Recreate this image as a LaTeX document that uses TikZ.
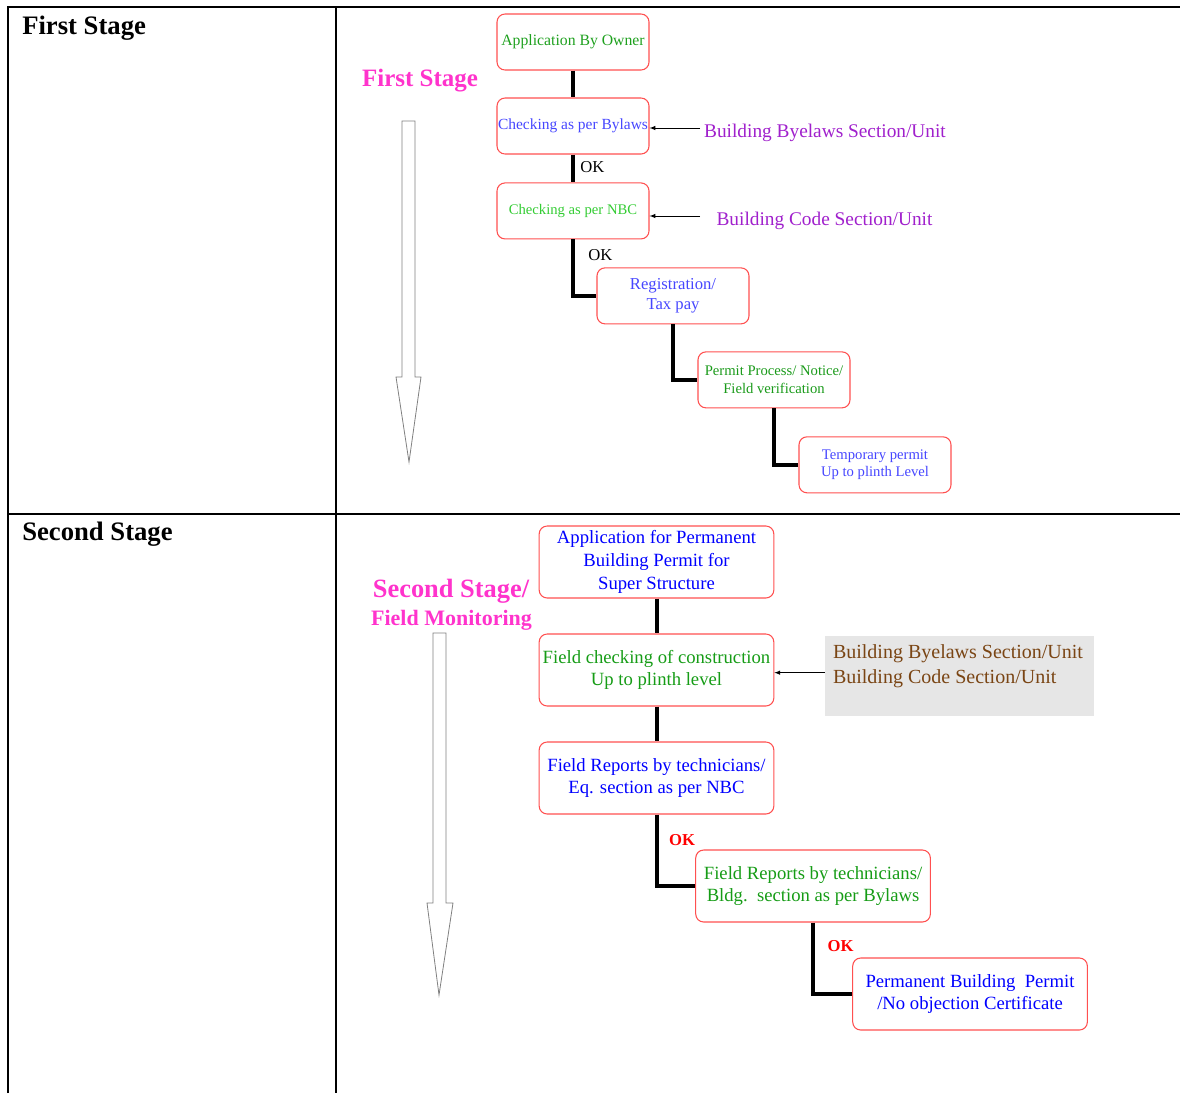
\documentclass[tikz,border=0pt]{standalone}
\usepackage{fontspec}
\setmainfont{Liberation Serif}
\usetikzlibrary{positioning}

\definecolor{boxred}{HTML}{FF5050}
\definecolor{ogreen}{HTML}{1EA01E}
\definecolor{bgreen}{HTML}{33CC33}
\definecolor{dgreen}{HTML}{1A9A1A}
\definecolor{fgreen}{HTML}{169C16}
\definecolor{lblue}{HTML}{4646FF}
\definecolor{pblue}{HTML}{0000FF}
\definecolor{unitpurple}{HTML}{A020CC}
\definecolor{stagepink}{HTML}{FF33CC}
\definecolor{unitgray}{HTML}{E6E6E6}
\definecolor{unitbrown}{HTML}{7A4514}

\begin{document}
\begin{tikzpicture}[x=0.75pt, y=-0.75pt, node distance=21pt]
\tikzstyle{stepbox} = [draw=boxred, line width=0.8pt, rectangle, rounded corners=6pt, minimum width=114pt, minimum height=42pt, align=center, inner sep=1pt, font=\fontsize{11}{13.5}\selectfont]
\tikzstyle{bigbox} = [stepbox, minimum width=176pt, minimum height=54pt, font=\fontsize{14}{17}\selectfont]
\tikzstyle{flow} = [draw, line width=3pt]
\tikzstyle{feed} = [draw, line width=0.5pt, -latex]
\tikzstyle{rule} = [draw, line width=1.6pt]
\tikzstyle{hollow} = [draw=gray, line width=0.6pt]
\tikzstyle{okplain} = [right, inner sep=0pt, font=\fontsize{12.5}{15}\selectfont]
\tikzstyle{okred} = [right, inner sep=0pt, text=red, font=\bfseries\fontsize{12.5}{15}\selectfont]
\tikzstyle{unitlabel} = [text=unitpurple, inner sep=0pt, font=\fontsize{14.5}{18}\selectfont]
\tikzstyle{stagetitle} = [text=stagepink, inner sep=0pt]
\tikzstyle{headtext} = [anchor=west, inner sep=0pt, font=\bfseries\fontsize{20}{24}\selectfont]

\useasboundingbox (0,0) rectangle (1180,1093);

% table
\draw[rule] (8,1093) -- (8,7) -- (1180,7);
\draw[rule] (336,7) -- (336,1093);
\draw[rule] (8,514) -- (1180,514);

\node[headtext] (firsthead) at (22,28) {First Stage};
\node[headtext] (secondhead) at (22,534) {Second Stage};

% first stage
\node[stagetitle, font=\bfseries\fontsize{18.75}{22}\selectfont] (firsttitle) at (420,81) {First Stage};
\draw[hollow] (402,121) -- (415,121) -- (415,377) -- (421,377) -- (409,462) -- (396,377) -- (402,377) -- cycle;

\node[stepbox, text=ogreen, font=\fontsize{11.8}{14}\selectfont] (apply) at (573,42) {Application By Owner};
\node[stepbox, below=20.2pt of apply, text=lblue, font=\fontsize{11.6}{14}\selectfont, inner xsep=0pt] (bylaws) {Checking as per Bylaws};
\node[stepbox, below=20.9pt of bylaws, text=bgreen] (nbc) {Checking as per NBC};
\node[stepbox, below=20.9pt of nbc, xshift=75pt, text=lblue, font=\fontsize{12.5}{15}\selectfont] (tax) {Registration/\\Tax pay};
\node[stepbox, below=20.2pt of tax, xshift=75.75pt, text=dgreen] (notice) {Permit Process/ Notice/\\Field verification};
\node[stepbox, below=20.9pt of notice, xshift=75.75pt, text=lblue, font=\fontsize{11}{13}\selectfont] (temp) {Temporary permit\\Up to plinth Level};

\path[flow] (apply) -- (bylaws);
\path[flow] (bylaws) -- node[okplain, xshift=4pt, yshift=1pt] {OK} (nbc);
\path[flow] (nbc) |- node[okplain, pos=0.15, xshift=10pt, yshift=1pt] {OK} (tax);
\path[flow] (tax) |- (notice);
\path[flow] (notice) |- (temp);

\node[unitlabel] (bylawunit) at (825,133) {Building Byelaws Section/Unit};
\node[unitlabel] (codeunit) at (824.5,221) {Building Code Section/Unit};
\coordinate (bylawtap) at (700,128);
\coordinate (codetap) at (700,216);
\path[feed] (bylawtap) -- (bylawtap -| bylaws.east);
\path[feed] (codetap) -- (codetap -| nbc.east);

% second stage
\node[stagetitle, font=\bfseries\fontsize{19.8}{23}\selectfont] (secondtitle) at (451,591) {Second Stage/};
\node[stagetitle, font=\bfseries\fontsize{16.5}{20}\selectfont] (secondsub) at (451.5,620) {Field Monitoring};
\draw[hollow] (433,633) -- (446,633) -- (446,903) -- (453,903) -- (439,995) -- (427,903) -- (433,903) -- cycle;

\node[bigbox, text=pblue] (permapp) at (656.5,562) {Application for Permanent\\Building Permit for\\Super Structure};
\node[bigbox, below=26.2pt of permapp, text=fgreen] (fieldcheck) {Field checking of construction\\Up to plinth level};
\node[bigbox, below=26.2pt of fieldcheck, text=pblue] (nbcreport) {Field Reports by technicians/\\Eq. section as per NBC};
\node[bigbox, below=26.2pt of nbcreport, xshift=117.4pt, text=fgreen] (bylawreport) {Field Reports by technicians/\\Bldg.\ \ section as per Bylaws};
\node[bigbox, below=26.2pt of bylawreport, xshift=117.75pt, text=pblue] (noc) {Permanent Building\ \ Permit\\/No objection Certificate};

\path[flow] (permapp) -- (fieldcheck);
\path[flow] (fieldcheck) -- (nbcreport);
\path[flow] (nbcreport) |- node[okred, pos=0.18, xshift=8pt] {OK} (bylawreport);
\path[flow] (bylawreport) |- node[okred, pos=0.167, xshift=9.5pt] {OK} (noc);

\node[fill=unitgray, minimum width=201.75pt, minimum height=60pt] (unitbox) at (959.5,676) {};
\node[anchor=north west, inner sep=0pt, align=left, text=unitbrown, font=\fontsize{15}{18.75}\selectfont] (unittext) at ([xshift=6pt, yshift=-6.5pt]unitbox.north west) {Building Byelaws Section/Unit\\Building Code Section/Unit};
\path[feed] ([yshift=2.5pt]unitbox.west) -- ([yshift=2.5pt]unitbox.west -| fieldcheck.east);

\end{tikzpicture}
\end{document}
